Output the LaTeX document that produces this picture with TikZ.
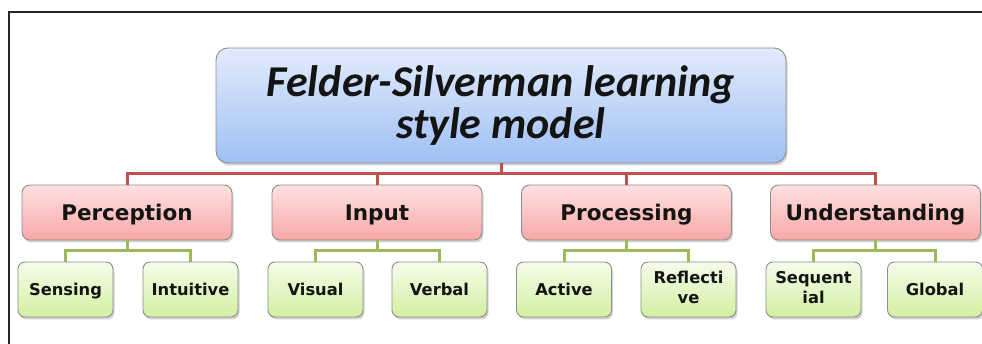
\documentclass[tikz,border=0pt]{standalone}
\usepackage{fontspec}
\newfontfamily\titlefont{Carlito}
\newfontfamily\labfont{DejaVu Sans}
\usetikzlibrary{shadows}
\definecolor{redc}{HTML}{C0504D}
\definecolor{greenc}{HTML}{9BBB59}
\definecolor{boxline}{HTML}{8C8C8C}
\definecolor{txt}{HTML}{141414}
\tikzset{
  basebox/.style={draw=boxline, line width=0.9pt, text=txt, align=center, inner sep=0pt,
    drop shadow={opacity=0.35, shadow xshift=1.5pt, shadow yshift=-2.5pt}},
  topbox/.style={basebox, rounded corners=12pt, minimum width=570pt, minimum height=115pt,
    top color={rgb,255:red,226;green,235;blue,252}, bottom color={rgb,255:red,160;green,192;blue,244},
    font=\titlefont\bfseries\itshape\fontsize{44}{42}\selectfont},
  catbox/.style={basebox, rounded corners=8pt, minimum width=210pt, minimum height=55pt,
    text height=16pt, text depth=0pt,
    top color={rgb,255:red,255;green,224;blue,224}, bottom color={rgb,255:red,248;green,168;blue,168},
    font=\labfont\bfseries\fontsize{21.5}{24}\selectfont},
  leafbox/.style={basebox, rounded corners=7pt, minimum width=95pt, minimum height=55pt,
    text height=12pt, text depth=0pt,
    top color={rgb,255:red,245;green,252;blue,234}, bottom color={rgb,255:red,210;green,240;blue,160},
    font=\labfont\bfseries\fontsize{16.3}{20}\selectfont},
  twoline/.style={text height=28pt, text depth=0pt},
  redlink/.style={draw=redc, line width=3pt},
  greenlink/.style={draw=greenc, line width=3pt},
  frameline/.style={draw=black!85, line width=2pt}
}
\begin{document}
\begin{tikzpicture}[x=1pt,y=-1pt]
\useasboundingbox (0,0) rectangle (982,344);
\coordinate (fa) at (9,344);
\coordinate (fb) at (9,12.5);
\coordinate (fc) at (990,12.5);
\draw[frameline] (fa) -- (fb) -- (fc);

\node[topbox] (top) at (501,105.5) {Felder-Silverman learning\\style model};

\node[catbox] (per) at (127,212.5) {Perception};
\node[catbox] (inp) at (377,212.5) {Input};
\node[catbox] (pro) at (626.5,212.5) {Processing};
\node[catbox] (und) at (875.5,212.5) {Understanding};

\node[leafbox] (sen) at (65.5,289.5) {Sensing};
\node[leafbox] (int) at (190.5,289.5) {Intuitive};
\node[leafbox] (vis) at (315.5,289.5) {Visual};
\node[leafbox] (ver) at (439.5,289.5) {Verbal};
\node[leafbox] (act) at (564,289.5) {Active};
\node[leafbox, twoline] (ref) at (688.5,289.5) {Reflecti\\ve};
\node[leafbox, twoline] (seq) at (813.5,289.5) {Sequent\\ial};
\node[leafbox] (glo) at (935,289.5) {Global};

\coordinate (rb) at (0,173.5);
\coordinate (gb) at (0,251);

\draw[redlink] (top.south) -- (top.south |- rb);
\draw[redlink] (per.north) |- (rb -| und.north) -- (und.north);
\draw[redlink] (inp.north) -- (inp.north |- rb);
\draw[redlink] (pro.north) -- (pro.north |- rb);

\draw[greenlink] (sen.north) |- (gb -| int.north) -- (int.north);
\draw[greenlink] (per.south) -- (per.south |- gb);
\draw[greenlink] (vis.north) |- (gb -| ver.north) -- (ver.north);
\draw[greenlink] (inp.south) -- (inp.south |- gb);
\draw[greenlink] (act.north) |- (gb -| ref.north) -- (ref.north);
\draw[greenlink] (pro.south) -- (pro.south |- gb);
\draw[greenlink] (seq.north) |- (gb -| glo.north) -- (glo.north);
\draw[greenlink] (und.south) -- (und.south |- gb);
\end{tikzpicture}
\end{document}
